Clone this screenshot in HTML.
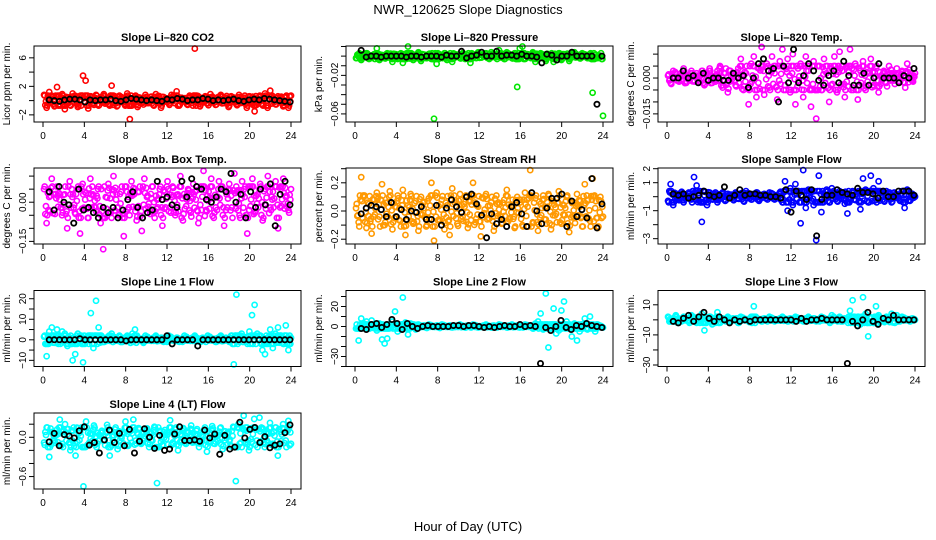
<!DOCTYPE html>
<html><head><meta charset="utf-8"><style>
body{margin:0;background:#fff;}
svg{display:block;font-family:"Liberation Sans",sans-serif;}
</style></head><body>
<svg id="c" width="936" height="540" viewBox="0 0 936 540">
<text x="468" y="14" text-anchor="middle" font-size="13">NWR_120625  Slope Diagnostics</text>
<text x="468" y="531" text-anchor="middle" font-size="13">Hour of Day (UTC)</text>
</svg>
<script>
const xTicks=[0,4,8,12,16,20,24];
// CO2
const co2Col=[0.8,-1.0,1.2,0.5,-0.8,1.9,-0.5,0.9,-1.2,0.3,-0.6,1.0,0.4,-0.9,0.7,3.5,2.8,-1.1,0.6,-0.4,0.8,-0.7,0.5,0.9,-0.3,-0.6,2.1,0.4,-0.8,0.7,0.3,-0.5,1.0,-2.6,0.2,0.6,-0.9,0.4,-0.3,0.8,-0.2,0.5,-0.6,0.9,0.3,-1.0,0.5,0.2,-0.4,0.8,0.6,1.3,-0.7,0.4,0.2,-0.5,0.7,-0.3,7.3,0.5,-0.8,0.3,0.6,-0.4,0.9,0.2,-0.6,0.5,0.8,-0.3,0.4,-0.9,0.6,0.3,-0.5,0.8,-0.2,0.4,-1.0,0.6,-0.4,-1.5,0.3,0.7,-0.6,1.0,-1.0,1.4,0.2,-0.5,0.6,0.3,-0.8,0.5,-1.0,0.7];
const co2Blk=[0.1,0,-0.1,0.1,0.2,0.2,0.1,-0.2,0.1,0,0.1,0.1,0.2,0,-0.1,0.1,0.3,0.2,0.1,0,0.1,0,-0.1,0.2,0.1,0.3,0.2,0,0.1,0.1,0.3,0.2,0,0.1,0,0.1,0.2,0,-0.1,0.1,0.2,0.1,0.3,0.2,0.1,0,-0.1,-0.2];
// Pressure
const prCol=[-0.002,0.002,-0.004,0.001,0.003,-0.003,-0.001,0.002,0.008,-0.004,0,-0.002,0.003,-0.001,-0.006,0.001,-0.003,0.002,-0.007,-0.001,0.01,0.003,-0.004,0,0.004,-0.005,0.001,-0.002,0.002,-0.003,-0.065,-0.008,0.002,-0.001,0.003,-0.004,0,-0.006,0.002,0.001,-0.002,0.003,-0.003,0.001,-0.007,0.002,0,0.004,-0.001,0.002,0.003,-0.002,0.004,0.001,-0.001,0.006,0.002,-0.003,0.004,0.001,-0.002,0.003,-0.032,0.008,0.01,-0.003,0.002,0,0.004,-0.006,0.001,0.003,-0.002,-0.005,0.002,0,-0.006,0.001,0.003,-0.004,0.002,0,-0.005,0.002,0.004,0,-0.002,0.003,0.001,-0.002,0.002,-0.038,0.001,-0.002,0,-0.062];
const prBlk=[0.006,-0.001,0,0,-0.001,0,0,0,0,-0.001,0,0,-0.001,0,0,0,-0.001,0.001,0,0,0.005,-0.002,0,0.001,0.004,0,0,0.005,0,0.001,0.001,0,0.002,0,0,-0.001,-0.007,0.002,0.001,-0.004,0,0,0.004,0,0,0,0,-0.05,0];
// Temp
const tpCol=[0.001,-0.002,0.003,0.002,-0.001,0.002,0.004,-0.002,0.001,0.003,-0.001,0.002,0,0.003,-0.003,0.002,0.004,-0.002,0,0.003,0.005,-0.004,0.002,-0.006,0.003,0.001,-0.003,0.004,0.008,-0.005,0.002,-0.011,0.006,0.009,-0.008,0.004,0.013,-0.007,0.006,-0.004,0.009,0.002,-0.009,0.007,0.012,-0.003,0.008,-0.006,0.01,-0.011,0.004,0.006,-0.008,0.009,0.003,-0.012,0.007,-0.017,0.005,-0.005,0.008,0.002,-0.01,0.004,0.009,-0.006,0.011,0.003,-0.008,0.005,0.012,-0.004,0.006,-0.009,0.003,0.007,-0.005,0.002,0.008,-0.003,0.004,-0.006,0.001,0.003,-0.002,0.005,0.002,-0.001,0.004,0,0.003,-0.002,0.006,0.001,-0.001,0.002];
const tpBlk=[0,0,0.003,0,0.001,-0.002,0.002,-0.001,0,0,-0.001,-0.001,0.002,0,0.001,-0.004,0,0.006,0.008,0.003,0.004,-0.010,0.005,-0.002,0.012,-0.002,0.001,0.006,0.003,-0.001,-0.003,0.001,0.003,-0.002,0.007,0.001,-0.003,-0.003,0.002,-0.003,0,0.006,0,0,0,-0.002,0.001,0,0.004];
// Amb box temp
const abCol=[0.05,-0.08,0.02,0.09,-0.03,0.06,0.01,-0.05,0.03,-0.10,0.08,0.02,-0.04,0.05,-0.12,0.07,0.01,-0.06,0.09,0.03,-0.02,0.05,-0.08,-0.18,0.02,0.07,-0.04,0.10,0.01,-0.05,0.04,-0.13,0.06,-0.02,0.08,0.03,-0.07,0.04,-0.11,0.09,0.02,-0.03,0.06,-0.06,0.01,0.05,-0.09,0.04,0.08,-0.02,0.06,-0.05,0.03,0.10,-0.07,0.02,0.05,-0.04,0.07,0.01,-0.08,0.06,0.12,-0.03,0.04,0.09,-0.06,0.02,0.08,0.05,-0.09,0.03,0.07,-0.02,0.11,0.04,-0.05,0.08,0.02,-0.12,0.06,0.09,-0.04,0.03,0.07,-0.07,0.05,0.10,-0.02,0.04,0.08,-0.10,0.06,0.09,0.02,-0.03,0.05];
const abBlk=[0.04,-0.03,0.06,0,-0.01,-0.08,0.05,-0.03,-0.02,-0.04,-0.06,-0.02,-0.04,-0.02,-0.06,-0.03,0.01,0.04,-0.02,-0.06,-0.04,-0.03,0.08,0.01,0.02,-0.01,-0.02,0.08,0.02,0.09,0.06,0.05,0.01,0,0.02,0.05,0.04,0.11,0,0.03,-0.06,0.04,-0.02,0.05,-0.01,0.07,-0.09,0.03,0.08,-0.01];
// Gas stream RH
const rhCol=[0.02,-0.08,0.24,0.10,-0.12,0.05,-0.16,0.08,0.13,-0.04,0.19,-0.10,0.06,0.14,-0.13,0.03,0.11,-0.07,0.15,-0.17,0.04,0.12,-0.09,0.07,-0.14,0.10,0.02,-0.11,0.09,0.20,-0.21,0.13,-0.06,0.08,-0.13,0.04,-0.17,0.16,0.06,-0.09,0.12,-0.04,0.10,-0.12,0.07,0.20,-0.08,0.03,-0.18,0.09,0.12,-0.05,0.06,-0.14,0.11,0.01,-0.09,0.08,0.15,-0.06,0.04,-0.12,0.10,0.06,-0.10,0.13,0.03,0.29,-0.08,0.09,-0.14,0.05,0.11,-0.06,0.12,-0.13,0.07,-0.02,0.14,-0.09,0.04,0.10,-0.15,0.06,-0.05,0.12,0.03,-0.11,0.19,0.08,-0.07,0.23,0.02,-0.12,0.10,-0.04];
const rhBlk=[-0.02,0.02,0.04,0.03,0.01,-0.04,0.06,-0.04,0.01,-0.06,0,-0.01,0.03,-0.06,-0.06,0.04,-0.10,0.02,0.08,0.03,-0.01,0.10,0.12,0.05,-0.03,-0.19,-0.02,-0.09,-0.06,-0.11,0.03,0.06,-0.02,-0.11,0.13,0,-0.09,0.02,0.09,0.09,0.12,-0.11,0.07,-0.04,0.01,-0.05,0.23,-0.12,0.05];
// Sample flow
const sfCol=[-0.3,0.9,-0.6,0.2,-0.2,0.3,-0.4,0.1,0.3,-0.2,1.4,0.8,-0.3,-1.8,0.1,-0.6,0.3,-0.2,0.2,-0.4,0.1,0.3,-0.3,0.2,0.1,-0.2,0.3,-0.1,0.2,-0.3,0.4,0.1,-0.2,0.2,0.3,-0.3,0.1,0.2,-0.1,0.3,0.2,-0.2,0.1,0.3,-0.4,1.1,-1.0,0.6,-0.6,0.9,0.4,-1.9,1.9,-0.8,0.5,0.3,-0.6,-3.1,1.5,-1.1,0.2,0.5,-0.4,0.6,0.2,-0.3,0.4,0.1,-0.5,-1.2,0.2,0.4,-0.2,0.3,-0.9,1.3,0.5,-0.4,1.5,0.6,-0.2,1.1,0.3,-0.3,0.4,0.2,-0.4,0.3,0.1,-0.2,0.4,-0.8,0.5,-0.3,0.2,0];
const sfBlk=[0.2,0.1,0.2,-0.1,0,0.1,0.4,0.1,0,0.1,0.7,-0.1,0.1,0.5,0.1,0.2,0.2,0.1,0.1,0,0,-0.1,0.5,-1.1,0.4,0.1,-0.2,0.5,-2.8,-0.2,0.1,0.1,0.5,0.3,0.2,0.1,0.6,0.3,0.3,0.2,-0.1,0.4,0,0,0.4,0.4,0.4,0.1];
// Line 1
const l1Col=[1.5,-8,4,6,2,5,-1,4,3,-3,1,-10,-7,3,2,-11,1,2,13,-4,19,6,2,-1,1,2,3,0,1,2,-1,1,2,0,3,5,1,0,-1,2,1,0,1,2,0,1,-1,0,2,1,0,1,-1,0,2,1,0,1,2,0,-1,1,0,2,1,0,-1,1,2,0,1,0,2,-12,22,1,3,0,-1,4,12,17,3,2,-5,-7,1,5,-4,3,6,2,-2,7,-5,1];
const l1Blk=[0,0,0,0,0,0,0.5,0,0,0,0,0,0,0,0,-0.5,0,0,0,0,0,0,0,2,-2,0,0,0,0,-3,0,0,0,0,0,0,0,0,0,0,0,0,0,0,0,0,0,0];
// Line 2
const l2Col=[-2,-14,8,3,5,-2,6,2,-4,3,-13,-17,-12,2,5,15,-5,2,29,4,-8,3,1,-3,2,0,1,-1,2,1,0,1,-1,2,1,0,1,-1,0,1,2,0,-1,1,0,2,1,-1,0,1,2,0,-1,1,0,2,1,0,-1,1,2,0,1,-1,0,2,1,0,-2,3,5,13,-3,33,-21,2,18,-7,-4,16,25,5,-2,-10,3,-14,-5,2,8,-3,10,1,-5,2,0,-1];
const l2Blk=[-2,-3,2,3,-1,2,7,3,-3,3,0,-2,0,1,0,0,0,0,1,1,0,1,1,0,-1,0,-1,0,1,0,0,2,0,1,0,-37,-1,-4,0,6,-1,-3,1,0,3,1,0,-1];
// Line 3
const l3Col=[2,-1,1,3,-2,0,2,1,-1,3,1,-2,0,4,-7,1,2,-3,0,5,-2,1,0,2,-1,1,0,-2,2,1,0,-1,2,9,1,0,-1,1,0,2,1,-1,0,1,2,0,-1,1,0,2,1,0,-1,1,2,0,1,-1,0,2,1,0,-1,3,1,0,2,-1,1,0,6,13,-2,2,-3,15,4,-11,1,-2,9,3,0,-1,2,1,4,-1,3,0,2,1,0,-1,1,0];
const l3Blk=[-1,-2,1,3,-1,2,5,1,-1,2,0,-2,0,-1,0,-1,0,0,0,0,0,0,0,0,-1,1,-1,0,0,1,0,0,0,0,-29,-1,-4,0,5,-1,-3,1,0,3,0,0,0,0];
// Line 4
const l4Col=[-0.08,0.15,-0.3,0.08,-0.05,0.12,0.27,-0.1,0.2,0.05,-0.2,0.1,-0.28,0.14,0.02,-0.75,0.24,-0.1,0.06,0.18,-0.15,0.04,0.1,-0.05,0.19,-0.28,0.03,0.12,-0.18,0.08,0.05,0.24,-0.13,0.1,0.27,-0.05,0.14,-0.1,0.07,0.12,-0.15,0.06,0.16,-0.7,0.08,-0.12,0.11,0.04,0.26,-0.08,0.12,-0.2,0.05,0.14,-0.1,0.08,0.18,-0.05,0.1,-0.15,0.04,0.12,-0.22,0.06,0.17,-0.1,0.03,0.14,-0.18,0.09,0.05,-0.12,0.16,-0.67,0.2,-0.08,0.33,0.1,-0.2,0.14,0.28,-0.05,0.3,0.12,-0.15,0.06,0.22,-0.1,0.15,-0.28,0.08,0.2,-0.05,0.25,-0.1];
const l4Blk=[-0.07,0.06,-0.13,0.04,0.02,-0.01,0.1,0.16,-0.12,-0.08,-0.24,-0.04,0.11,-0.08,0.06,-0.13,0.12,-0.24,-0.06,0.13,0,-0.17,0.03,-0.2,-0.18,0.05,0.16,-0.05,-0.05,-0.04,-0.06,0.11,-0.01,0.05,-0.26,0.03,-0.18,-0.15,0.23,-0.01,0.12,0.15,-0.08,0.01,-0.16,-0.12,-0.1,0.07,0.19];

const panels=[
 {title:"Slope Li\u2013820 CO2",yl:"Licor ppm per min.",col:"#ff0000",c:co2Col,b:co2Blk,lo:-3.0,hi:7.66,ticks:[-2,0,2,4,6],labels:[-2,2,6]},
 {title:"Slope Li\u2013820 Pressure",yl:"kPa per min.",col:"#00e600",c:prCol,b:prBlk,lo:-0.0684,hi:0.0105,ticks:[0.01,0,-0.01,-0.02,-0.03,-0.04,-0.05,-0.06],labels:[-0.02,-0.06],fmt:v=>v.toFixed(2)},
 {title:"Slope Li\u2013820 Temp.",yl:"degrees C per min.",col:"#ff00ff",c:tpCol,b:tpBlk,lo:-0.0184,hi:0.0134,ticks:[0.01,0.005,0,-0.005,-0.01,-0.015],labels:[0,-0.015],fmt:v=>v.toFixed(3)},
 {title:"Slope Amb. Box Temp.",yl:"degrees C per min.",col:"#ff00ff",c:abCol,b:abBlk,lo:-0.16,hi:0.131,ticks:[0.1,0.05,0,-0.05,-0.1,-0.15],labels:[0,-0.15],fmt:v=>v.toFixed(2)},
 {title:"Slope Gas Stream RH",yl:"percent per min.",col:"#ff9900",c:rhCol,b:rhBlk,lo:-0.234,hi:0.305,ticks:[0.3,0.2,0.1,0,-0.1,-0.2],labels:[0.2,0,-0.2],fmt:v=>v.toFixed(1)},
 {title:"Slope Sample Flow",yl:"ml/min per min.",col:"#0000ff",c:sfCol,b:sfBlk,lo:-3.38,hi:2.05,ticks:[2,1,0,-1,-2,-3],labels:[2,1,-1,-3]},
 {title:"Slope Line 1 Flow",yl:"ml/min per min.",col:"#00ffff",c:l1Col,b:l1Blk,lo:-13,hi:24,ticks:[20,15,10,5,0,-5,-10],labels:[20,10,0,-10]},
 {title:"Slope Line 2 Flow",yl:"ml/min per min.",col:"#00ffff",c:l2Col,b:l2Blk,lo:-40,hi:36,ticks:[30,20,10,0,-10,-20,-30,-40],labels:[20,0,-30]},
 {title:"Slope Line 3 Flow",yl:"ml/min per min.",col:"#00ffff",c:l3Col,b:l3Blk,lo:-31,hi:19.5,ticks:[10,0,-10,-20,-30],labels:[10,-10,-30]},
 {title:"Slope Line 4 (LT) Flow",yl:"ml/min per min.",col:"#00ffff",c:l4Col,b:l4Blk,lo:-0.79,hi:0.371,ticks:[0.2,0,-0.2,-0.4,-0.6],labels:[0,-0.6],fmt:v=>v.toFixed(1)}
];
const svg=document.getElementById('c');
const NS="http://www.w3.org/2000/svg";
function mk(tag,attrs,parent){const e=document.createElementNS(NS,tag);for(const k in attrs)e.setAttribute(k,attrs[k]);parent.appendChild(e);return e;}
const rowTops=[46,168,290.5,413],W=267,H=76;
panels.forEach((p,i)=>{
 const r=Math.floor(i/3),cI=i%3;
 const L=34+312*cI,T=rowTops[r];
 const g=mk('g',{},svg);
 
 
 const xs=h=>L+9+h*(W-19)/24;
 const ys=v=>T+H-(v-p.lo)/(p.hi-p.lo)*H;
 const t=mk('text',{x:L+W/2,y:T-5,'text-anchor':'middle','font-size':'11','font-weight':'bold'},g);
 t.textContent=p.title;
 
 
 const yl=mk('text',{x:0,y:0,transform:`translate(${L-24},${T+H/2}) rotate(-90)`,'text-anchor':'middle','font-size':'10'},g);
 yl.textContent=p.yl;
 
 
 // typical band half-width from data (median absolute value)
 const absS=p.c.map(Math.abs).sort((a,b)=>a-b);
 const band=absS[Math.floor(absS.length*0.6)];
 const clamp=v=>Math.max(-band,Math.min(band,v));
 const cg=mk('g',{fill:'none',stroke:p.col,'stroke-width':'1.6'},g);
 
 
 const n=p.c.length-1;
 p.c.forEach((v,k)=>{
  if(k<n){
   const nx=p.c[k+1];
   const extras=[[0.25,clamp((v-nx)*0.5)],[0.5,clamp((nx-v)*0.35)],[0.75,clamp((v+nx)*0.5)]];
   extras.forEach(([f,val])=>{
    const e=mk('circle',{cx:xs(0.1+(k+f)*23.9/n),cy:ys(val),r:2.6},cg);
    
    
   });
  }
 });
 p.c.forEach((v,k)=>{const e=mk('circle',{cx:xs(0.1+k*23.9/n),cy:ys(v),r:2.6},cg);
  
  });
 const bg=mk('g',{fill:'none',stroke:'#000','stroke-width':'1.8'},g);
 
 
 p.b.forEach((v,k)=>{const e=mk('circle',{cx:xs(0.6+k*23.3/(p.b.length-1)),cy:ys(v),r:2.6},bg);
  
  });
 const box=mk('rect',{x:L,y:T,width:W,height:H,fill:'none',stroke:'#000','stroke-width':'1'},g);
 
 
 xTicks.forEach(h=>{mk('line',{x1:xs(h),x2:xs(h),y1:T+H,y2:T+H+5,stroke:'#000'},g);
  const tx=mk('text',{x:xs(h),y:T+H+17,'text-anchor':'middle','font-size':'10'},g);
  tx.textContent=h;
  
  });
 mk('line',{x1:xs(0),x2:xs(24),y1:T+H,y2:T+H,stroke:'#000'},g);
 p.ticks.forEach(v=>mk('line',{x1:L,x2:L-5,y1:ys(v),y2:ys(v),stroke:'#000'},g));
 p.labels.forEach(v=>{const tx=mk('text',{x:0,y:0,transform:`translate(${L-8},${ys(v)}) rotate(-90)`,'text-anchor':'middle','font-size':'10'},g);
  tx.textContent=(p.fmt?p.fmt(v):String(v)).replace('-','\u2212');
  
  });
});
</script>
</body></html>
